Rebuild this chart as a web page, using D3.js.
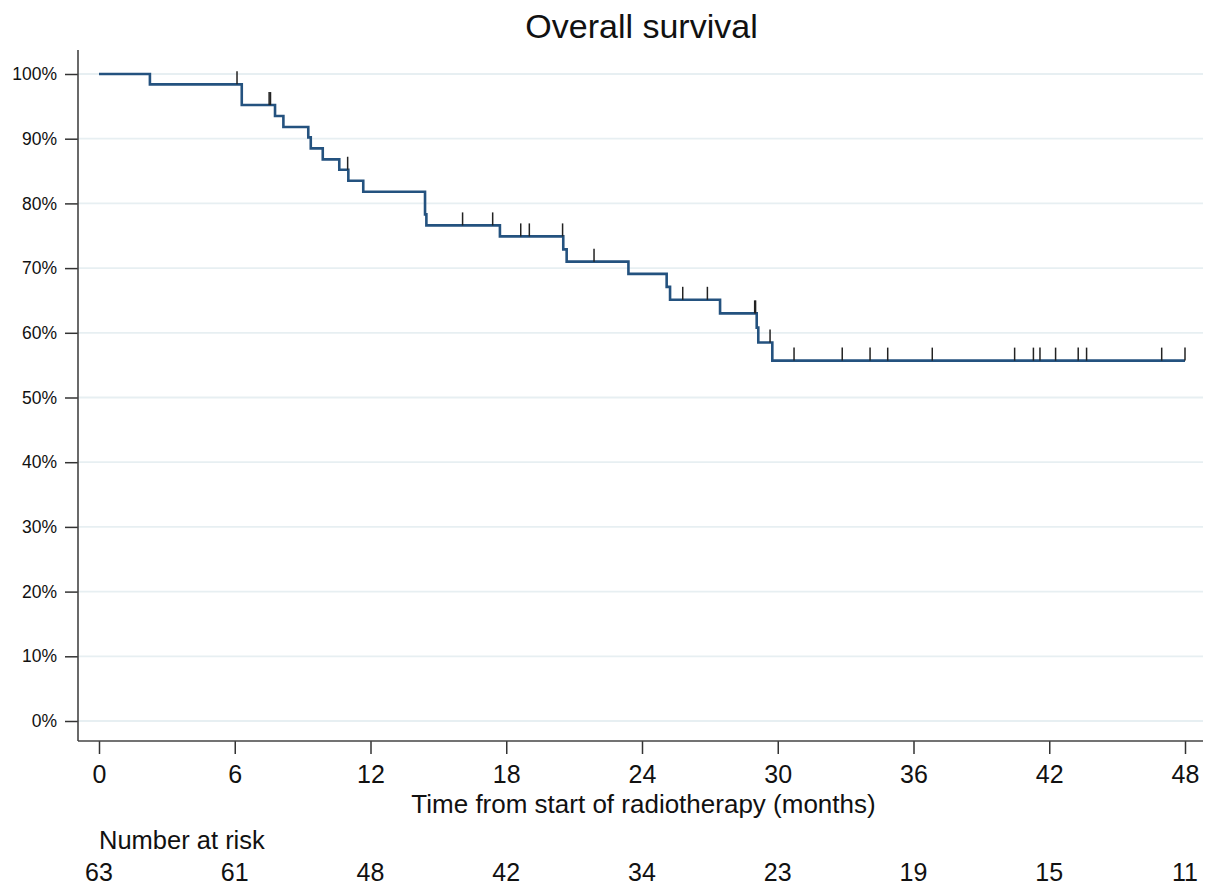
<!DOCTYPE html>
<html>
<head>
<meta charset="utf-8">
<script src="https://cdn.jsdelivr.net/npm/d3@7"></script>
<style>
  body { margin: 0; background: #fff; }
  text { font-family: "Liberation Sans", Arial, sans-serif; fill: #111; }
</style>
</head>
<body>
<script>
// Kaplan-Meier steps: [time in months, survival]
const stepTimes = [0, 2.25, 6.31, 7.78, 8.15, 9.25, 9.36, 9.89, 10.62, 11.02, 11.68,
  14.41, 14.47, 17.72, 20.52, 20.67, 23.40, 25.09, 25.24, 27.45, 29.07, 29.14, 29.76];
const stepSurv = [1.0, 0.984, 0.952, 0.935, 0.918, 0.902, 0.885, 0.868, 0.852, 0.835, 0.818,
  0.783, 0.766, 0.749, 0.729, 0.710, 0.691, 0.671, 0.651, 0.630, 0.608, 0.585, 0.557];
const lastTime = 48.0;

// censored observations (months)
const censorTimes = [6.10, 7.52, 7.58, 10.99, 16.07, 17.40, 18.64, 19.02, 20.49, 21.88,
  25.80, 26.89, 28.98, 29.02, 29.66, 30.72, 32.85, 34.08, 34.86, 36.83, 40.47, 41.30,
  41.59, 42.28, 43.28, 43.65, 46.97, 48.0];

const xTicks = [0, 6, 12, 18, 24, 30, 36, 42, 48];
const yTicks = [0, 0.1, 0.2, 0.3, 0.4, 0.5, 0.6, 0.7, 0.8, 0.9, 1.0];
const atRisk = [63, 61, 48, 42, 34, 23, 19, 15, 11];

const width = 1211, height = 889;
const axisLeft = 78, axisRight = 1203, axisBottom = 741, axisTop = 50;

const svg = d3.select('body').append('svg')
  .attr('width', width)
  .attr('height', height);

const x = d3.scaleLinear().domain([0, 48]).range([99, 1185]);
const y = d3.scaleLinear().domain([0, 1]).range([721, 74]);

// gridlines
svg.selectAll('.grid').data(yTicks).enter().append('line')
  .attr('x1', axisLeft).attr('x2', axisRight)
  .attr('y1', d => y(d)).attr('y2', d => y(d))
  .attr('stroke', '#e7eff2')
  .attr('stroke-width', 1.8);

// y axis
const yAxis = d3.axisLeft(y).tickValues(yTicks).tickFormat(d3.format('.0%'))
  .tickSize(13).tickPadding(8);
const gy = svg.append('g').attr('transform', `translate(${axisLeft},0)`).call(yAxis);
gy.select('.domain').remove();
gy.selectAll('.tick line').attr('stroke', '#333').attr('stroke-width', 1.5);
gy.selectAll('.tick text').style('font-size', '17.5px').attr('fill', '#111');
svg.append('line')
  .attr('x1', axisLeft).attr('x2', axisLeft)
  .attr('y1', axisTop).attr('y2', axisBottom)
  .attr('stroke', '#444').attr('stroke-width', 1.6);

// x axis
const xAxis = d3.axisBottom(x).tickValues(xTicks).tickSize(13).tickPadding(11);
const gx = svg.append('g').attr('transform', `translate(0,${axisBottom})`).call(xAxis);
gx.select('.domain').remove();
gx.selectAll('.tick line').attr('stroke', '#333').attr('stroke-width', 1.5);
gx.selectAll('.tick text').style('font-size', '25px').attr('fill', '#111');
svg.append('line')
  .attr('x1', axisLeft).attr('x2', axisRight)
  .attr('y1', axisBottom).attr('y2', axisBottom)
  .attr('stroke', '#444').attr('stroke-width', 1.6);

// survival curve
const pts = stepTimes.map((t, i) => [t, stepSurv[i]]);
pts.push([lastTime, stepSurv[stepSurv.length - 1]]);
const line = d3.line()
  .x(d => x(d[0]))
  .y(d => y(d[1]))
  .curve(d3.curveStepAfter);
svg.append('path')
  .datum(pts)
  .attr('d', line)
  .attr('fill', 'none')
  .attr('stroke', '#24527f')
  .attr('stroke-width', 2.6);

// censor marks sit on the curve at the survival level of that time
function survAt(t) {
  let s = stepSurv[0];
  stepTimes.forEach((st, i) => { if (st <= t) s = stepSurv[i]; });
  return s;
}
svg.selectAll('.censor').data(censorTimes).enter().append('line')
  .attr('x1', d => x(d)).attr('x2', d => x(d))
  .attr('y1', d => y(survAt(d)))
  .attr('y2', d => y(survAt(d)) - 13)
  .attr('stroke', '#222')
  .attr('stroke-width', 1.5);

// titles
svg.append('text')
  .attr('x', (axisLeft + axisRight) / 2 + 1).attr('y', 38)
  .attr('text-anchor', 'middle')
  .style('font-size', '34px')
  .text('Overall survival');

svg.append('text')
  .attr('x', (axisLeft + axisRight) / 2 + 3).attr('y', 813)
  .attr('text-anchor', 'middle')
  .style('font-size', '26px')
  .text('Time from start of radiotherapy (months)');

svg.append('text')
  .attr('x', 99).attr('y', 849)
  .style('font-size', '25.5px')
  .text('Number at risk');

svg.selectAll('.risk').data(atRisk).enter().append('text')
  .attr('x', (d, i) => x(xTicks[i])).attr('y', 881)
  .attr('text-anchor', 'middle')
  .style('font-size', '25px')
  .text(d => d);
</script>
</body>
</html>
